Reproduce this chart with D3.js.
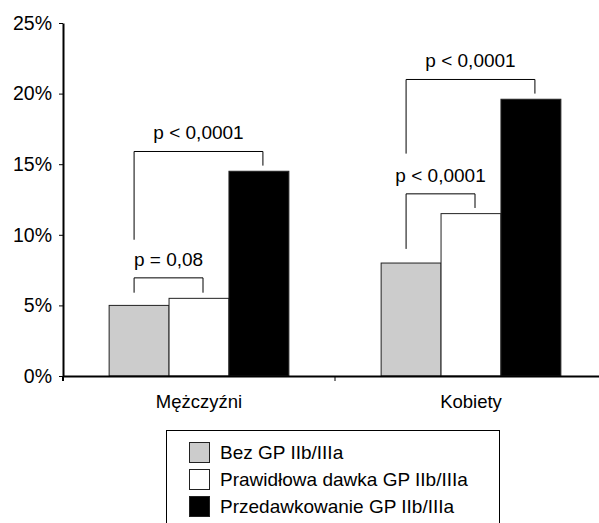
<!DOCTYPE html>
<html>
<head>
<meta charset="utf-8">
<script src="https://cdn.jsdelivr.net/npm/d3@7"></script>
<style>
  body { margin: 0; background: #fff; }
  text { font-family: "Liberation Sans", Arial, Helvetica, sans-serif; fill: #000; }
</style>
</head>
<body>
<div id="chart"></div>
<script>
// Data
const categories = ["Mężczyźni", "Kobiety"];
const series = ["Bez GP IIb/IIIa", "Prawidłowa dawka GP IIb/IIIa", "Przedawkowanie GP IIb/IIIa"];
const menValues = [5.0, 5.5, 14.5];
const womenValues = [8.0, 11.5, 19.6];
const yTicks = [0, 5, 10, 15, 20, 25];

// significance brackets: bar indexes, height of the bar line, where each leg stops, label
const bracketCats = ["Mężczyźni", "Mężczyźni", "Kobiety", "Kobiety"];
const bracketFrom = [0, 0, 0, 0];
const bracketTo = [1, 2, 1, 2];
const bracketTop = [6.95, 15.9, 12.9, 21.0];
const bracketLeftEnd = [5.9, 9.65, 9.0, 15.75];
const bracketRightEnd = [5.9, 14.9, 11.9, 20.0];
const bracketLabels = ["p = 0,08", "p < 0,0001", "p < 0,0001", "p < 0,0001"];

const colors = ["#cccccc", "#ffffff", "#000000"];

const width = 599, height = 523;

const rows = categories.map((c, i) => ({
    cat: c,
    values: i === 0 ? menValues : womenValues
}));

const svg = d3.select("#chart")
    .append("svg")
    .attr("width", width)
    .attr("height", height);

const x0 = d3.scaleBand()
    .domain(categories)
    .range([63, 607]);

const x1 = d3.scaleBand()
    .domain(d3.range(series.length))
    .range([0, x0.bandwidth()])
    .paddingOuter(0.77);

const y = d3.scaleLinear()
    .domain([0, 25])
    .range([376, 23]);

// Bars
const groups = svg.selectAll(".group")
    .data(rows)
    .enter()
    .append("g")
    .attr("transform", d => `translate(${x0(d.cat)},0)`);

groups.selectAll("rect")
    .data(d => d.values.map((v, i) => ({ i: i, v: v })))
    .enter()
    .append("rect")
    .attr("x", d => x1(d.i))
    .attr("y", d => y(d.v))
    .attr("width", x1.bandwidth())
    .attr("height", d => y(0) - y(d.v))
    .attr("fill", d => colors[d.i])
    .attr("stroke", "#222")
    .attr("stroke-width", 1);

// Y axis
const yAxis = svg.append("g")
    .attr("transform", "translate(63,0)")
    .call(d3.axisLeft(y).tickValues(yTicks).tickSize(4).tickSizeOuter(0).tickPadding(7)
        .tickFormat(d => d + "%"));
yAxis.select(".domain").attr("stroke-width", 2);
yAxis.selectAll("text").style("font-size", "19.5px");

// X axis
const xAxis = svg.append("g")
    .attr("transform", "translate(0,376)")
    .call(d3.axisBottom(x0).tickSize(0).tickSizeOuter(0).tickPadding(19));
xAxis.select(".domain").attr("stroke-width", 2);
xAxis.selectAll("text").style("font-size", "18.5px");

// ticks at the category boundaries
svg.selectAll(".xtick")
    .data(categories)
    .enter()
    .append("line")
    .attr("x1", d => x0(d))
    .attr("x2", d => x0(d))
    .attr("y1", y(0))
    .attr("y2", y(0) + 5)
    .attr("stroke", "#000")
    .attr("stroke-width", d => d === categories[0] ? 2 : 1);

// Brackets
const legX = (cat, idx, side) => x0(cat) + x1(idx) + x1.bandwidth() / 2 + (side === "left" ? -5 : 4);

bracketLabels.forEach((label, k) => {
    const cat = bracketCats[k];
    const xl = legX(cat, bracketFrom[k], "left");
    const xr = legX(cat, bracketTo[k], "right");
    const yt = y(bracketTop[k]);

    svg.append("path")
        .attr("d", `M${xl},${y(bracketLeftEnd[k])}V${yt}H${xr}V${y(bracketRightEnd[k])}`)
        .attr("fill", "none")
        .attr("stroke", "#000")
        .attr("stroke-width", 1);

    svg.append("text")
        .attr("x", (xl + xr) / 2)
        .attr("y", yt - 12)
        .attr("text-anchor", "middle")
        .style("font-size", "19px")
        .text(label);
});

// Legend
const legend = svg.append("g");
legend.append("rect")
    .attr("x", 166.5)
    .attr("y", 430.5)
    .attr("width", 333)
    .attr("height", 120)
    .attr("fill", "#fff")
    .attr("stroke", "#000")
    .attr("stroke-width", 1);

const items = legend.selectAll(".item")
    .data(series)
    .enter()
    .append("g")
    .attr("transform", (d, i) => `translate(189,${452.5 + i * 27})`);

items.append("rect")
    .attr("x", 0.5)
    .attr("y", -10)
    .attr("width", 20)
    .attr("height", 20)
    .attr("fill", (d, i) => colors[i])
    .attr("stroke", "#222")
    .attr("stroke-width", 1);

items.append("text")
    .attr("x", 31)
    .attr("dy", "0.35em")
    .style("font-size", "19px")
    .text(d => d);
</script>
</body>
</html>
